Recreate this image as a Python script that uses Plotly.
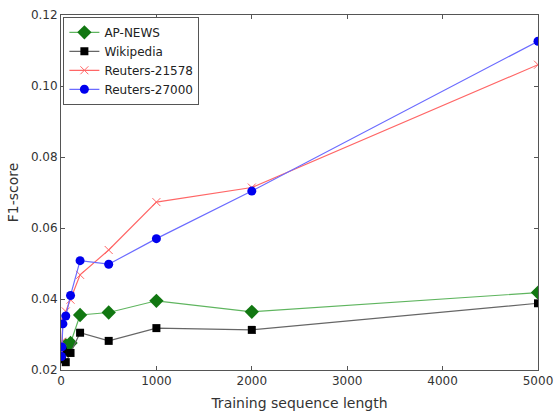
import plotly.graph_objects as go

x_vals = [5, 10, 20, 50, 100, 200, 500, 1000, 2000, 5000]
ap_news = [0.0245, 0.0255, 0.0265, 0.0270, 0.0276, 0.0355, 0.0362, 0.0395, 0.0364, 0.0418]
wikipedia = [0.0240, 0.0230, 0.0252, 0.0222, 0.0248, 0.0305, 0.0282, 0.0318, 0.0313, 0.0388]
reuters_21578 = [0.0250, 0.0280, 0.0340, 0.0365, 0.0398, 0.0468, 0.0538, 0.0673, 0.0714, 0.1060]
reuters_27000 = [0.0238, 0.0265, 0.0330, 0.0352, 0.0410, 0.0508, 0.0498, 0.0570, 0.0704, 0.1126]

x_ticks = [0, 1000, 2000, 3000, 4000, 5000]
y_ticks = [0.02, 0.04, 0.06, 0.08, 0.10, 0.12]

fig = go.Figure()
fig.add_trace(go.Scatter(x=x_vals, y=ap_news, name="AP-NEWS", mode="lines+markers",
                         line=dict(color="#5fb55f", width=1.2),
                         marker=dict(symbol="diamond", size=11, color="#117711")))
fig.add_trace(go.Scatter(x=x_vals, y=wikipedia, name="Wikipedia", mode="lines+markers",
                         line=dict(color="#666666", width=1.2),
                         marker=dict(symbol="square", size=8, color="#000000")))
fig.add_trace(go.Scatter(x=x_vals, y=reuters_21578, name="Reuters-21578", mode="lines+markers",
                         line=dict(color="#ff6666", width=1.2),
                         marker=dict(symbol="x-thin", size=8, color="#ff6666",
                                     line=dict(color="#ff6666", width=1))))
fig.add_trace(go.Scatter(x=x_vals, y=reuters_27000, name="Reuters-27000", mode="lines+markers",
                         line=dict(color="#6b6bff", width=1.2),
                         marker=dict(symbol="circle", size=9, color="#0000ee")))

axis_common = dict(showline=True, linecolor="#555555", linewidth=1, mirror="allticks",
                   ticks="inside", ticklen=4, tickcolor="#555555", showgrid=False, zeroline=False,
                   automargin=False,
                   tickfont=dict(family="DejaVu Sans", size=12, color="#333333"))

fig.update_xaxes(range=[0, 5000], tickvals=x_ticks, ticktext=[str(v) for v in x_ticks],
                 title=dict(text="Training sequence length", font=dict(family="DejaVu Sans", size=14, color="#333333"),
                            standoff=10),
                 **axis_common)
fig.update_yaxes(range=[0.02, 0.12], tickvals=y_ticks, ticktext=[f"{v:.2f}" for v in y_ticks],
                 title=dict(text="F1-score", font=dict(family="DejaVu Sans", size=14, color="#333333"),
                            standoff=8),
                 **axis_common)

fig.update_layout(
    width=556, height=413,
    margin=dict(l=61, r=18, t=15, b=43),
    paper_bgcolor="white", plot_bgcolor="white",
    showlegend=True,
    legend=dict(x=0.005, y=0.995, xanchor="left", yanchor="top",
                bordercolor="#555555", borderwidth=1, bgcolor="white",
                font=dict(family="DejaVu Sans", size=12, color="#222222"),
                tracegroupgap=0, itemwidth=30),
)

fig.write_html("out.html")
